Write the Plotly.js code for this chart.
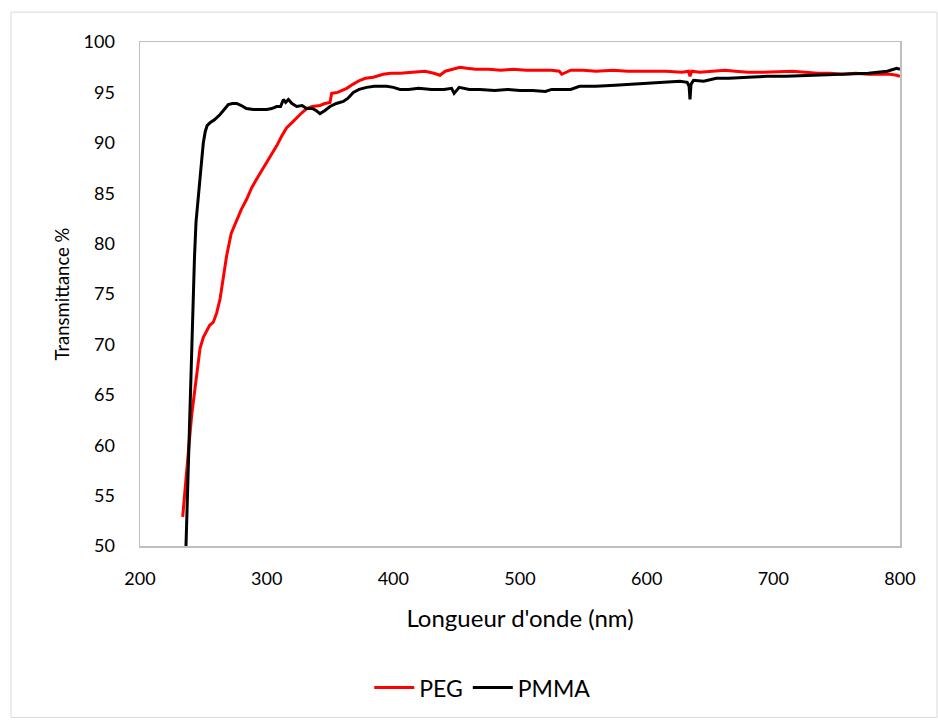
<!DOCTYPE html>
<html><head><meta charset="utf-8">
<script src="https://cdn.plot.ly/plotly-3.0.1.min.js"></script>
<style>html,body{margin:0;padding:0;background:#fff}#chart{width:938px;height:721px}</style>
</head><body><div id="chart"></div>
<script>
const pegX = [233.7,236,239,241,243.4,245.5,247.4,250,252.6,255,257.9,260.5,263.2,265.8,268.4,272,276.3,280,284.2,288,292.1,296,300,304,307.9,312,315.8,320,323.7,328,331.6,336,342.1,346,350,351.3,356,363.2,368,373.7,378,384.2,392,398,405.3,415,425,432,436.8,441,447,452.6,458,465,475,485,494.5,505,515,525,531,533,540,550,560,573.4,585,600,615,628,633,634.2,635.5,642,655,662,670,680,692,705.3,715,725,735,745,755,765,775,785,792,797.4,800];
const pegY = [52.9,56.5,60.5,63.2,65.6,67.8,69.6,70.7,71.4,71.9,72.2,73.1,74.5,76.6,78.8,81.0,82.4,83.4,84.4,85.5,86.4,87.2,88.0,88.9,89.7,90.7,91.5,92.0,92.5,93.0,93.4,93.6,93.7,93.9,94.0,94.9,95.0,95.4,95.8,96.2,96.4,96.5,96.8,96.9,96.9,97.0,97.1,96.9,96.7,97.1,97.3,97.5,97.4,97.3,97.3,97.2,97.3,97.2,97.2,97.2,97.1,96.8,97.2,97.2,97.1,97.2,97.1,97.1,97.1,97.0,97.1,96.6,97.1,97.0,97.1,97.2,97.1,97.0,97.0,97.1,97.1,97.0,96.9,96.9,96.8,96.9,96.8,96.8,96.8,96.7,96.6,96.9];
const pmmaX = [236.3,237.5,238.9,240.2,241.6,243,244.2,245.8,247.4,248.8,250,251.5,253,255.3,259,263.2,266.5,269.7,273,276.3,280,284,289.5,295,300,304,307.9,311,313.2,315,317.1,320,323.7,328,331.6,336,339,342.1,346,350,355,360.5,364,368.4,373,378.9,385,394.7,400,405.3,412,420,430,440,446,448,452,460,468.4,480,490,500,510,520,525,534.2,540,547,560,575,590,605,615,626.3,632,633.5,634.2,635,637,645,655,665,680,695,710,731.3,745,760,775,790,797.4,800];
const pmmaY = [50.0,55.0,60.7,67.5,73.8,78.6,82.1,84.6,86.4,88.4,90.0,91.1,91.7,92.0,92.3,92.8,93.3,93.8,93.9,93.9,93.7,93.4,93.3,93.3,93.3,93.4,93.6,93.6,94.3,94.0,94.3,93.9,93.6,93.7,93.4,93.4,93.2,92.9,93.2,93.6,93.9,94.1,94.4,95.0,95.3,95.5,95.6,95.6,95.5,95.3,95.3,95.4,95.3,95.3,95.4,94.9,95.5,95.3,95.3,95.2,95.3,95.2,95.2,95.1,95.3,95.3,95.3,95.6,95.6,95.7,95.8,95.9,96.0,96.1,96.0,95.6,94.3,95.8,96.2,96.1,96.4,96.4,96.5,96.6,96.6,96.7,96.8,96.8,96.9,97.1,97.4,97.3];

const traces = [
  {x: pegX, y: pegY, name: 'PEG', type: 'scatter', mode: 'lines', line: {color: '#ff0000', width: 3}},
  {x: pmmaX, y: pmmaY, name: 'PMMA', type: 'scatter', mode: 'lines', line: {color: '#000000', width: 3}}
];
const fontFam = 'Lato, "Open Sans", sans-serif';
const layout = {
  width: 938, height: 721,
  margin: {l: 140, r: 38, t: 42, b: 173},
  paper_bgcolor: '#ffffff', plot_bgcolor: '#ffffff',
  font: {family: fontFam, color: '#000', size: 18},
  xaxis: {
    range: [200, 800], dtick: 100, tick0: 200, showgrid: false, zeroline: false, automargin: false,
    showline: true, mirror: true, linecolor: '#bfbfbf', linewidth: 1.5, ticks: '',
    tickfont: {size: 18, family: fontFam}, ticklabelstandoff: 16,
    title: {text: "Longueur d'onde (nm)", font: {size: 24, family: fontFam}, standoff: 22}
  },
  yaxis: {
    range: [50, 100], dtick: 5, tick0: 50, showgrid: false, zeroline: false, automargin: false,
    showline: true, mirror: true, linecolor: '#bfbfbf', linewidth: 1.5, ticks: '',
    tickfont: {size: 18, family: fontFam}, ticklabelstandoff: 20,
    title: {text: 'Transmittance %', font: {size: 18.5, family: fontFam}, standoff: 9}
  },
  showlegend: true,
  legend: {orientation: 'h', x: 0.451, xanchor: 'center', y: -0.281, yanchor: 'middle',
    font: {size: 23, family: fontFam}, itemwidth: 40, tracegroupgap: 0},
  shapes: [{type: 'rect', xref: 'paper', yref: 'paper', x0: -0.1697, x1: 1.0487, y0: -0.34, y1: 1.0593,
    line: {color: '#d9d9d9', width: 1}, fillcolor: 'rgba(0,0,0,0)', layer: 'below'}]
};
Plotly.newPlot('chart', traces, layout, {displayModeBar: false, staticPlot: true});
</script></body></html>
